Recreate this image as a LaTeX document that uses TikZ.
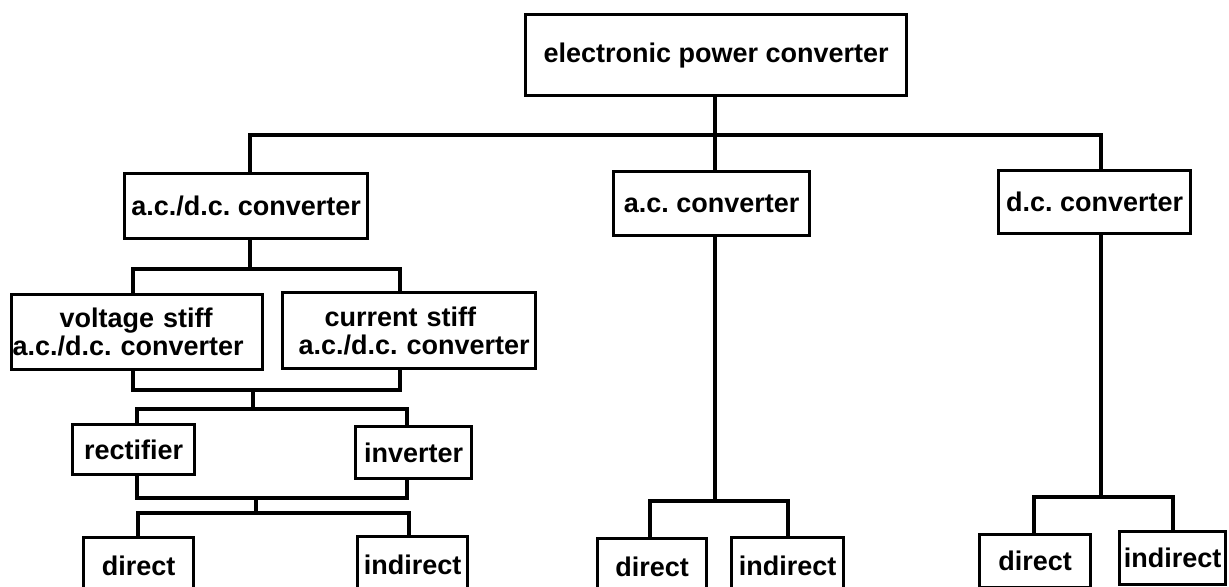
\documentclass[tikz,border=0pt]{standalone}
\usepackage{fontspec}
\setmainfont{Liberation Sans}
\frenchspacing
\begin{document}
\begin{tikzpicture}[x=0.5pt,y=-0.5pt,
  box/.style={draw, line width=1.6pt, inner sep=0pt, anchor=north west,
    font=\fontsize{13.5}{14}\selectfont\bfseries\frenchspacing},
  wire/.style={line width=1.6pt, line join=miter}]
\useasboundingbox (0,0) rectangle (1229,587);
\clip (0,0) rectangle (1229,587);
% boxes
\node[box, minimum width=190.5pt, minimum height=40.5pt] (top) at (524,13) {electronic power converter};
\node[box, minimum width=121.5pt, minimum height=32.5pt] (acdc) at (123,172) {a.c./d.c. converter};
\node[box, minimum width=98pt, minimum height=32pt] (ac) at (612,170) {a.c. converter};
\node[box, minimum width=96pt, minimum height=31.5pt] (dc) at (997,169) {d.c. converter};
\node[box, minimum width=125.5pt, minimum height=37.5pt, text width=125.5pt, align=left] (vs) at (10,293)
  {\hspace*{24pt}voltage stiff\\\hspace*{0.5pt}a.c./d.c. converter};
\node[box, minimum width=126.5pt, minimum height=38pt, text width=126.5pt, align=left] (cs) at (281,291)
  {\hspace*{21pt}current stiff\\\hspace*{8pt}a.c./d.c. converter};
\node[box, minimum width=61pt, minimum height=25pt] (rect) at (71,423) {rectifier};
\node[box, minimum width=58pt, minimum height=26pt] (inv) at (354,425) {inverter};
\node[box, minimum width=55pt, minimum height=28pt] (ld) at (82,536) {direct};
\node[box, minimum width=55pt, minimum height=28pt] (li) at (356,535) {indirect};
\node[box, minimum width=54.5pt, minimum height=28pt] (md) at (596,537) {direct};
\node[box, minimum width=56pt, minimum height=28pt] (mi) at (730,536) {indirect};
\node[box, minimum width=55.5pt, minimum height=26.5pt] (rd) at (978,533) {direct};
\node[box, minimum width=53pt, minimum height=26.5pt] (ri) at (1118,530) {indirect};
% junction points
\coordinate (t0) at (715,135);
\coordinate (hL) at (250,135);
\coordinate (hR) at (1101,135);
\coordinate (m0) at (715,501);
\coordinate (mL) at (650,501);
\coordinate (mR) at (788,501);
\coordinate (r0) at (1101,497);
\coordinate (rL) at (1034,497);
\coordinate (rR) at (1173,497);
\coordinate (a0) at (250,269);
\coordinate (aL) at (133,269);
\coordinate (aR) at (400,269);
\coordinate (b0) at (133,390);
\coordinate (b1) at (400,390);
\coordinate (bmid) at (253,390);
\coordinate (c0) at (253,409);
\coordinate (cL) at (137,409);
\coordinate (cR) at (407,409);
\coordinate (d0) at (137,498);
\coordinate (d1) at (407,498);
\coordinate (dmid) at (256,498);
\coordinate (e0) at (256,513);
\coordinate (eL) at (138,513);
\coordinate (eR) at (409,513);
% connectors
\draw[wire] (t0 |- top.south) -- (t0);
\draw[wire] (hL |- acdc.north) -- (hL) -- (hR) -- (hR |- dc.north);
\draw[wire] (t0) -- (t0 |- ac.north);
\draw[wire] (m0 |- ac.south) -- (m0);
\draw[wire] (mL |- md.north) -- (mL) -- (mR) -- (mR |- mi.north);
\draw[wire] (r0 |- dc.south) -- (r0);
\draw[wire] (rL |- rd.north) -- (rL) -- (rR) -- (rR |- ri.north);
\draw[wire] (a0 |- acdc.south) -- (a0);
\draw[wire] (aL |- vs.north) -- (aL) -- (aR) -- (aR |- cs.north);
\draw[wire] (b0 |- vs.south) -- (b0) -- (b1) -- (b1 |- cs.south);
\draw[wire] (bmid) -- (c0);
\draw[wire] (cL |- rect.north) -- (cL) -- (cR) -- (cR |- inv.north);
\draw[wire] (d0 |- rect.south) -- (d0) -- (d1) -- (d1 |- inv.south);
\draw[wire] (dmid) -- (e0);
\draw[wire] (eL |- ld.north) -- (eL) -- (eR) -- (eR |- li.north);
\end{tikzpicture}
\end{document}
